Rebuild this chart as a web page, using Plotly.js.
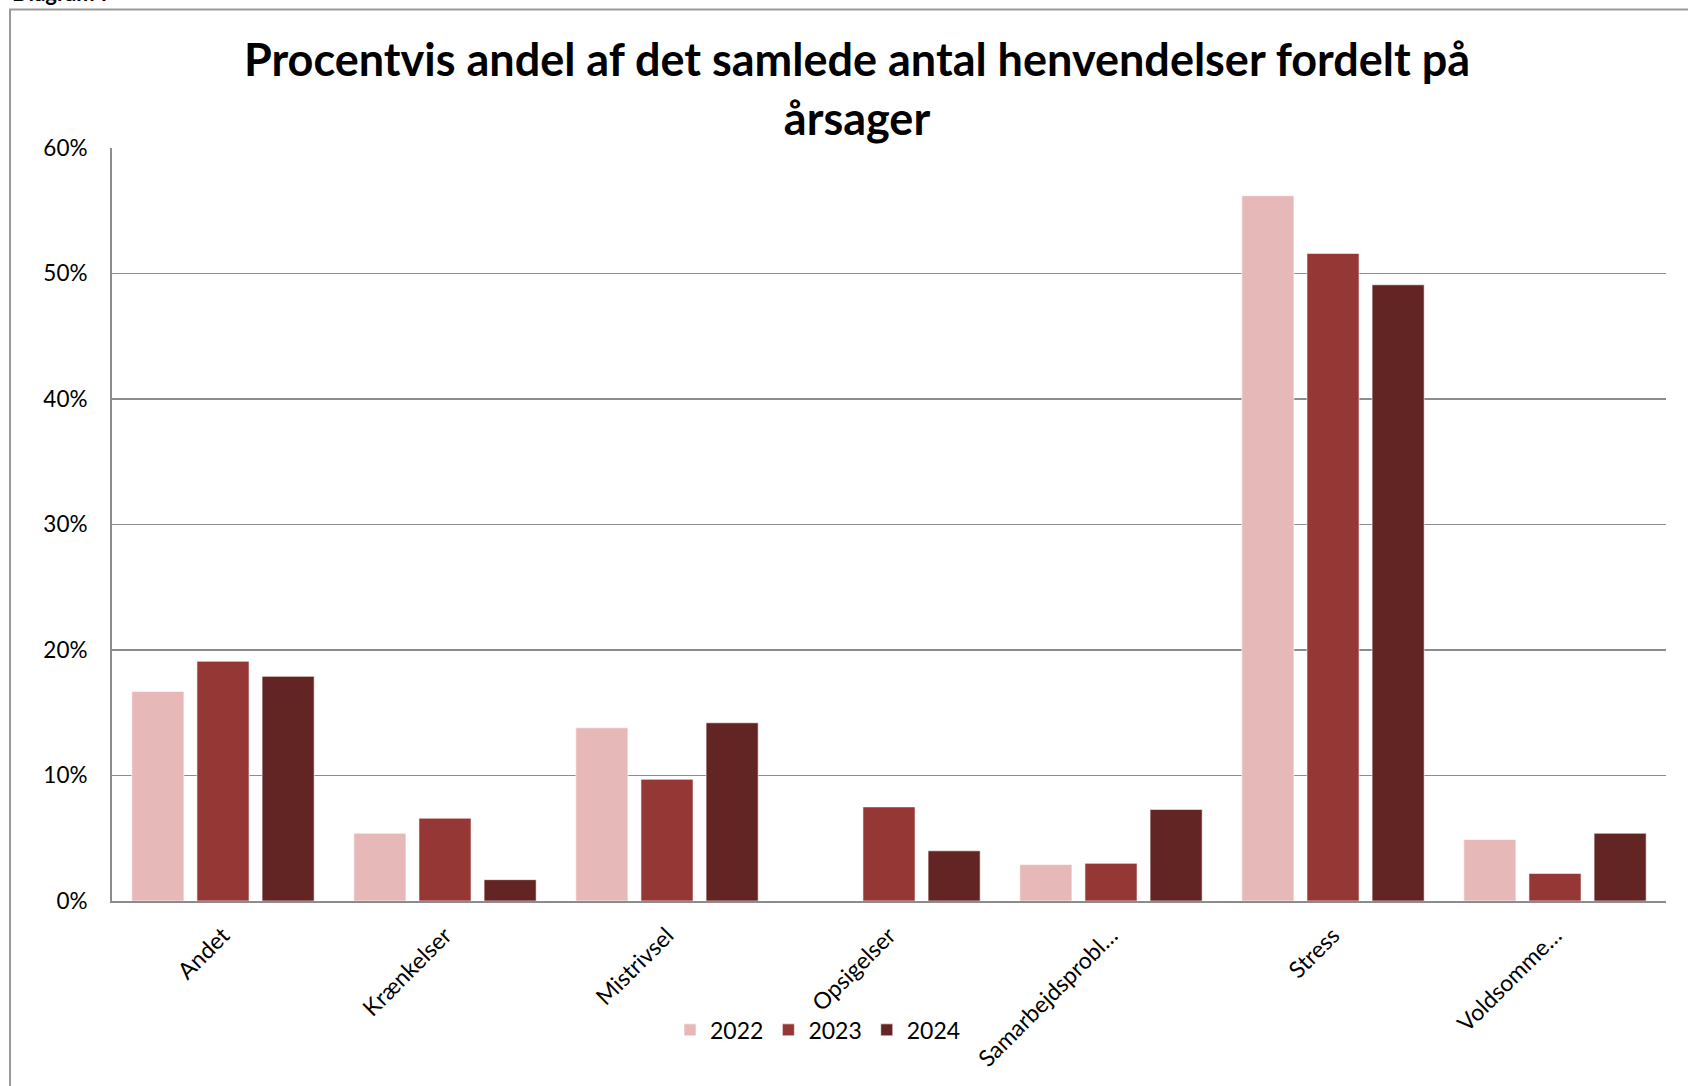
<!DOCTYPE html>
<html>
<head>
<meta charset="utf-8">
<script src="https://cdn.plot.ly/plotly-3.0.1.min.js"></script>
<style>html,body{margin:0;padding:0;background:#fff;}#chart{width:1688px;height:1086px;}</style>
</head>
<body>
<div id="chart"></div>
<script>
const categories = ["Andet", "Krænkelser", "Mistrivsel", "Opsigelser", "Samarbejdsprobl…", "Stress", "Voldsomme…"];
const years = ["2022", "2023", "2024"];
const values2022 = [16.7, 5.4, 13.8, 0, 2.9, 56.2, 4.9];
const values2023 = [19.1, 6.6, 9.7, 7.5, 3.0, 51.6, 2.2];
const values2024 = [17.9, 1.7, 14.2, 4.0, 7.3, 49.1, 5.4];
const yTickVals = [0, 10, 20, 30, 40, 50, 60];
const yTickText = ["0%", "10%", "20%", "30%", "40%", "50%", "60%"];

const colors = ["#E6B8B7", "#953735", "#632523"];
const series = [values2022, values2023, values2024];
const FONT = "Lato, 'Open Sans', sans-serif";

const traces = series.map((vals, i) => ({
  type: "bar",
  name: years[i],
  x: categories,
  y: vals,
  marker: {color: colors[i], line: {color: "rgba(255,255,255,0.6)", width: 1}},
  hoverinfo: "x+y+name"
}));

const L = 112, R = 1666, T = 147.5, B = 901;
const W = R - L, H = B - T;
const px = x => (x - L) / W;
const py = y => (B - y) / H;

const layout = {
  width: 1688,
  height: 1086,
  paper_bgcolor: "#ffffff",
  plot_bgcolor: "#ffffff",
  font: {family: FONT, color: "#000000", size: 20},
  margin: {l: L, r: 1688 - R, t: T, b: 1086 - B, pad: 0},
  title: {
    text: "<b>Procentvis andel af det samlede antal henvendelser fordelt på<br>årsager</b>",
    font: {family: FONT, size: 45, color: "#000000"},
    x: 857 / 1688,
    xanchor: "center",
    xref: "container",
    y: 1 - 76 / 1086,
    yanchor: "top",
    yref: "container"
  },
  barmode: "group",
  bargap: 0.12,
  bargroupgap: 0.2,
  showlegend: true,
  legend: {
    orientation: "h",
    x: px(818),
    xanchor: "center",
    y: py(1030),
    yanchor: "middle",
    font: {family: FONT, size: 23, color: "#000000"},
    bgcolor: "rgba(0,0,0,0)",
    traceorder: "normal"
  },
  xaxis: {
    type: "category",
    tickangle: -45,
    tickfont: {family: FONT, size: 23, color: "#000000"},
    ticklabelstandoff: 10,
    showline: true,
    linecolor: "#8c8c8c",
    linewidth: 2,
    ticks: "",
    showgrid: false,
    zeroline: false,
    fixedrange: true
  },
  yaxis: {
    range: [0, 60],
    tickmode: "array",
    tickvals: yTickVals,
    ticktext: yTickText,
    tickfont: {family: FONT, size: 22.5, color: "#000000"},
    showline: true,
    linecolor: "#8c8c8c",
    linewidth: 2,
    showgrid: true,
    gridcolor: "#8c8c8c",
    gridwidth: 1.5,
    zeroline: false,
    ticks: "outside",
    ticklen: 18,
    tickcolor: "rgba(0,0,0,0)",
    fixedrange: true
  },
  shapes: [
    {type: "rect", xref: "paper", yref: "paper", x0: px(10), x1: 1.1, y0: -0.4, y1: py(9),
     line: {color: "#9a9a9a", width: 2}, fillcolor: "rgba(0,0,0,0)", layer: "below"}
  ],
  annotations: [
    {text: "<b>Diagram 7</b>", xref: "paper", yref: "paper", x: px(10), y: py(7), xanchor: "left", yanchor: "bottom",
     showarrow: false, font: {family: FONT, size: 22, color: "#000000"}}
  ]
};

Plotly.newPlot("chart", traces, layout, {displayModeBar: false, staticPlot: true});
</script>
</body>
</html>
